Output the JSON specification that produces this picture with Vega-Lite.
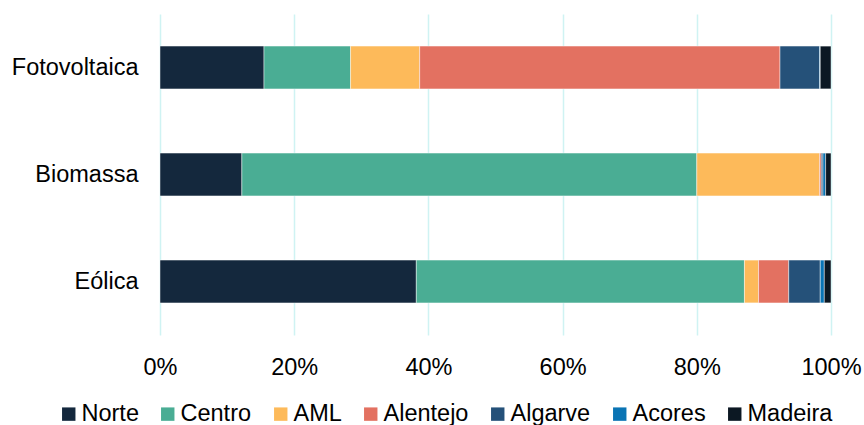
{
  "$schema": "https://vega.github.io/schema/vega-lite/v6.json",
  "width": 671,
  "height": 321,
  "autosize": {"type": "none"},
  "padding": {"left": 160, "top": 14, "right": 33, "bottom": 90},
  "background": "#ffffff",
  "config": {
    "view": {"stroke": null},
    "font": "Liberation Sans",
    "axis": {"labelFont": "Liberation Sans", "labelFontSize": 23.5, "labelColor": "#000000"},
    "legend": {"labelFont": "Liberation Sans", "labelFontSize": 23.5, "labelColor": "#000000", "padding": 0, "offset": 0}
  },
  "data": {
    "values": [
      {"tech": "Fotovoltaica", "region": "Norte", "k": 1, "v": 15.5},
      {"tech": "Fotovoltaica", "region": "Centro", "k": 2, "v": 12.9},
      {"tech": "Fotovoltaica", "region": "AML", "k": 3, "v": 10.3},
      {"tech": "Fotovoltaica", "region": "Alentejo", "k": 4, "v": 53.7},
      {"tech": "Fotovoltaica", "region": "Algarve", "k": 5, "v": 5.9},
      {"tech": "Fotovoltaica", "region": "Acores", "k": 6, "v": 0.1},
      {"tech": "Fotovoltaica", "region": "Madeira", "k": 7, "v": 1.6},
      {"tech": "Biomassa", "region": "Norte", "k": 1, "v": 12.2},
      {"tech": "Biomassa", "region": "Centro", "k": 2, "v": 67.8},
      {"tech": "Biomassa", "region": "AML", "k": 3, "v": 18.3},
      {"tech": "Biomassa", "region": "Alentejo", "k": 4, "v": 0.25},
      {"tech": "Biomassa", "region": "Algarve", "k": 5, "v": 0.25},
      {"tech": "Biomassa", "region": "Acores", "k": 6, "v": 0.4},
      {"tech": "Biomassa", "region": "Madeira", "k": 7, "v": 0.8},
      {"tech": "Eólica", "region": "Norte", "k": 1, "v": 38.2},
      {"tech": "Eólica", "region": "Centro", "k": 2, "v": 48.9},
      {"tech": "Eólica", "region": "AML", "k": 3, "v": 2.1},
      {"tech": "Eólica", "region": "Alentejo", "k": 4, "v": 4.5},
      {"tech": "Eólica", "region": "Algarve", "k": 5, "v": 4.7},
      {"tech": "Eólica", "region": "Acores", "k": 6, "v": 0.6},
      {"tech": "Eólica", "region": "Madeira", "k": 7, "v": 1.0}
    ]
  },
  "mark": {"type": "bar", "stroke": "#ffffff", "strokeWidth": 0.75, "strokeOpacity": 0.6},
  "encoding": {
    "y": {
      "field": "tech",
      "type": "nominal",
      "sort": ["Fotovoltaica", "Biomassa", "Eólica"],
      "scale": {"paddingInner": 0.6, "paddingOuter": 0.3},
      "axis": {"title": null, "domain": false, "ticks": false, "grid": false, "labelPadding": 22}
    },
    "x": {
      "field": "v",
      "type": "quantitative",
      "stack": "normalize",
      "scale": {"domain": [0, 1], "nice": false},
      "axis": {
        "title": null,
        "format": ".0%",
        "values": [0, 0.2, 0.4, 0.6, 0.8, 1],
        "domain": false,
        "ticks": false,
        "grid": true,
        "gridColor": "#cff3f3",
        "gridWidth": 1.5,
        "labelPadding": 20,
        "labelFlush": false
      }
    },
    "color": {
      "field": "region",
      "type": "nominal",
      "scale": {
        "domain": ["Norte", "Centro", "AML", "Alentejo", "Algarve", "Acores", "Madeira"],
        "range": ["#14283d", "#4aad94", "#fdba5a", "#e37161", "#255179", "#0a74b4", "#0c1823"]
      },
      "legend": {
        "title": null,
        "orient": "none",
        "direction": "horizontal",
        "legendX": -103,
        "legendY": 388,
        "symbolType": "square",
        "symbolSize": 180,
        "symbolStrokeWidth": 0,
        "symbolOpacity": 1,
        "labelOffset": 1,
        "columnPadding": 17
      }
    },
    "order": {"field": "k", "type": "quantitative"}
  }
}
